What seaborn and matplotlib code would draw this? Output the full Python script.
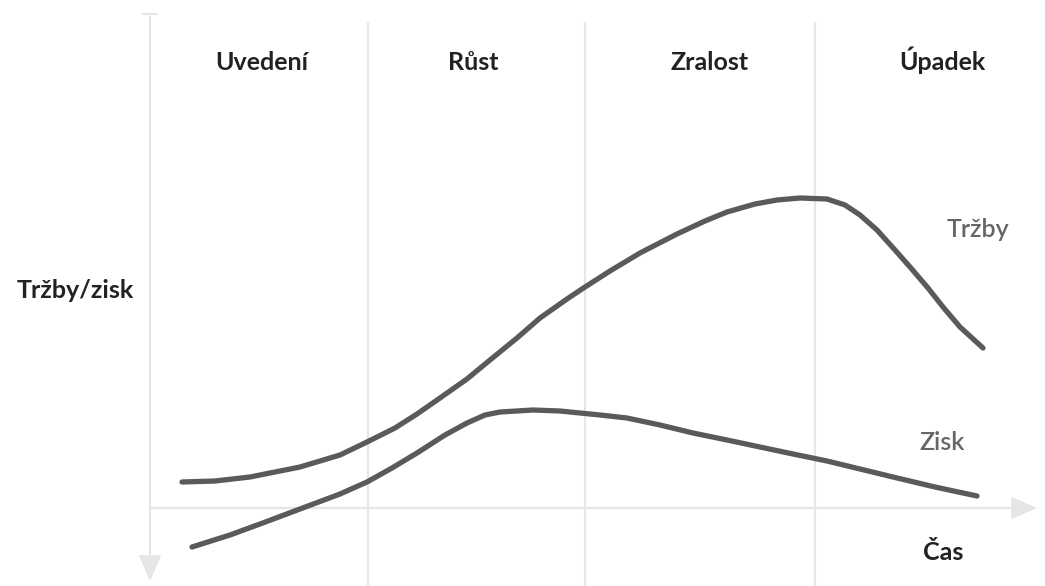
import pandas as pd
import matplotlib.pyplot as plt
import seaborn as sns

# Fáze životního cyklu (hranice na časové ose)
faze = ['Uvedení', 'Růst', 'Zralost', 'Úpadek']
hranice = [218, 435, 665]
stredy_faze = [112, 323, 560, 792]

# Tržby (čas, hodnota)
cas_trzby = [32, 65, 100, 150, 190, 217, 245, 267, 290, 317, 340, 367, 390, 417, 435,
             460, 490, 527, 555, 577, 605, 627, 650, 677, 695, 710, 727, 745, 760,
             778, 793, 810, 833]
trzby = [26, 27, 31, 41, 53, 66, 80, 94, 110, 129, 148, 170, 190, 209, 221,
         237, 255, 274, 287, 296, 304, 308, 310, 309, 303, 293, 278, 258, 241,
         220, 201, 181, 160]

# Zisk
cas_zisk = [42, 80, 110, 150, 190, 217, 242, 267, 295, 317, 335, 350, 383, 410, 450,
            477, 510, 543, 577, 610, 643, 677, 710, 743, 785, 827]
zisk = [-39, -27, -16, -1, 14, 26, 40, 55, 73, 85, 93, 96, 98, 97, 93,
        90, 83, 75, 68, 61, 54, 47, 39, 31, 21, 12]

sns.set_style("white")
plt.rcParams['font.family'] = ['Lato', 'DejaVu Sans']

df = pd.concat([
    pd.DataFrame({'cas': cas_trzby, 'hodnota': trzby, 'krivka': 'Tržby'}),
    pd.DataFrame({'cas': cas_zisk, 'hodnota': zisk, 'krivka': 'Zisk'}),
])

fig = plt.figure(figsize=(10.45, 5.86), dpi=100)
ax = fig.add_axes([0, 0, 1, 1])
ax.set_xlim(-150, 895)
ax.set_ylim(-78, 508)
ax.axis('off')

seda = '#e6e6e6'
# svislé čáry mezi fázemi
for h in hranice:
    ax.plot([h, h], [-78, 485], color=seda, lw=1.6, zorder=1)

# osy se šipkami
ax.annotate('', xy=(890, 0), xytext=(-2, 0),
            arrowprops=dict(arrowstyle='-|>,head_length=1.6,head_width=0.7', color=seda, lw=1.6))
ax.annotate('', xy=(0, -76), xytext=(0, 494),
            arrowprops=dict(arrowstyle='-|>,head_length=1.6,head_width=0.7', color=seda, lw=1.6))
ax.plot([-7, 7], [494, 494], color=seda, lw=1.6)

sns.lineplot(data=df, x='cas', y='hodnota', hue='krivka', units='krivka',
             estimator=None, sort=False, palette=['#5a5a5a', '#5a5a5a'],
             linewidth=3.8, legend=False, ax=ax, zorder=3,
             solid_capstyle='round', solid_joinstyle='round')

for nazev, x in zip(faze, stredy_faze):
    ax.text(x, 438, nazev, ha='center', va='baseline', fontsize=18,
            fontweight='bold', color='#222222')

ax.text(-75, 210, 'Tržby/zisk', ha='center', va='baseline', fontsize=18,
        fontweight='bold', color='#222222')
ax.text(828, 271, 'Tržby', ha='center', va='baseline', fontsize=18,
        fontweight='semibold', color='#666666')
ax.text(792, 58, 'Zisk', ha='center', va='baseline', fontsize=18,
        fontweight='semibold', color='#666666')
ax.text(793, -52, 'Čas', ha='center', va='baseline', fontsize=18,
        fontweight='bold', color='#222222')

fig.savefig('out.png', dpi=100)
